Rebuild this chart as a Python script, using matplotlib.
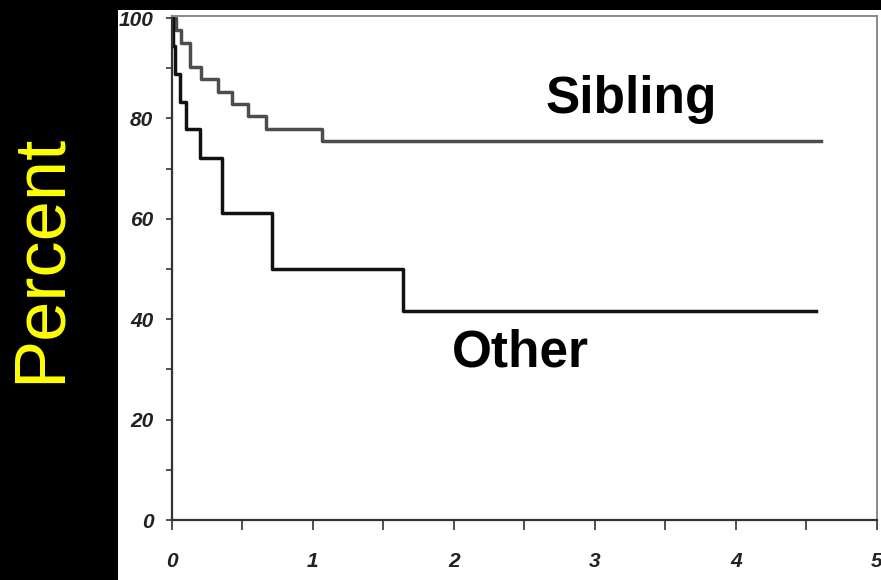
import matplotlib.pyplot as plt
from matplotlib.patches import Rectangle

# Kaplan-Meier style curves (years, percent)
sib_time = [0, 0.035, 0.07, 0.13, 0.21, 0.33, 0.43, 0.54, 0.67, 1.07, 4.6]
sib_surv = [100, 97.6, 95.1, 90.3, 87.8, 85.3, 82.8, 80.4, 77.9, 75.4, 75.4]

oth_time = [0, 0.01, 0.025, 0.058, 0.105, 0.2, 0.358, 0.715, 1.642, 4.57]
oth_surv = [100, 94.4, 88.9, 83.3, 77.8, 72.2, 61.1, 50.0, 41.7, 41.7]

x_ticks = [0, 1, 2, 3, 4, 5]
y_ticks = [0, 20, 40, 60, 80, 100]

W, H = 881, 580
fig = plt.figure(figsize=(W / 100, H / 100), dpi=100, facecolor="black")

# white panel behind the plot
fig.patches.append(Rectangle((118 / W, 0), 1, (H - 10) / H, transform=fig.transFigure,
                             facecolor="white", edgecolor="none", zorder=-5))

ax = fig.add_axes([171.5 / W, (H - 520) / H, (877 - 171.5) / W, (520 - 16) / H])
ax.set_zorder(2)
ax.set_facecolor("white")

ax.step(sib_time, sib_surv, where="post", color="#4d4d4d", lw=2.5)
ax.step(oth_time, oth_surv, where="post", color="#111111", lw=2.5)

ax.set_xlim(0, 5)
ax.set_ylim(0, 100.4)

tick_font = dict(family="Liberation Sans", size=15, weight="bold", style="italic")
ax.set_xticks(x_ticks)
ax.set_yticks(y_ticks)
ax.set_xticklabels([str(v) for v in x_ticks], **tick_font, color="#222222")
ax.set_yticklabels([str(v) for v in y_ticks], **tick_font, color="#222222")
ax.set_xticks([0.5, 1.5, 2.5, 3.5, 4.5], minor=True)
ax.set_yticks([10, 30, 50, 70, 90], minor=True)
ax.tick_params(axis="x", which="both", direction="out", length=7, width=1.2,
               color="#333333", pad=16)
ax.tick_params(axis="y", which="both", direction="out", length=4, width=1.2,
               color="#333333", pad=9)

for side in ["left", "bottom"]:
    ax.spines[side].set_color("#333333")
    ax.spines[side].set_linewidth(1.6)
for side in ["top", "right"]:
    ax.spines[side].set_color("#8a8a8a")
    ax.spines[side].set_linewidth(1.4)

ax.text(2.65, 81.1, "Sibling", family="Liberation Sans", weight="bold",
        size=37, color="black", ha="left", va="baseline")
ax.text(1.99, 30.5, "Other", family="Liberation Sans", weight="bold",
        size=37, color="black", ha="left", va="baseline")

fig.text(40.8 / W, 1 - 258 / H, "Percent", family="Liberation Sans", size=52,
         color="#ffff00", rotation=90, ha="center", va="center")

fig.savefig("out.png", dpi=100, facecolor="black")
